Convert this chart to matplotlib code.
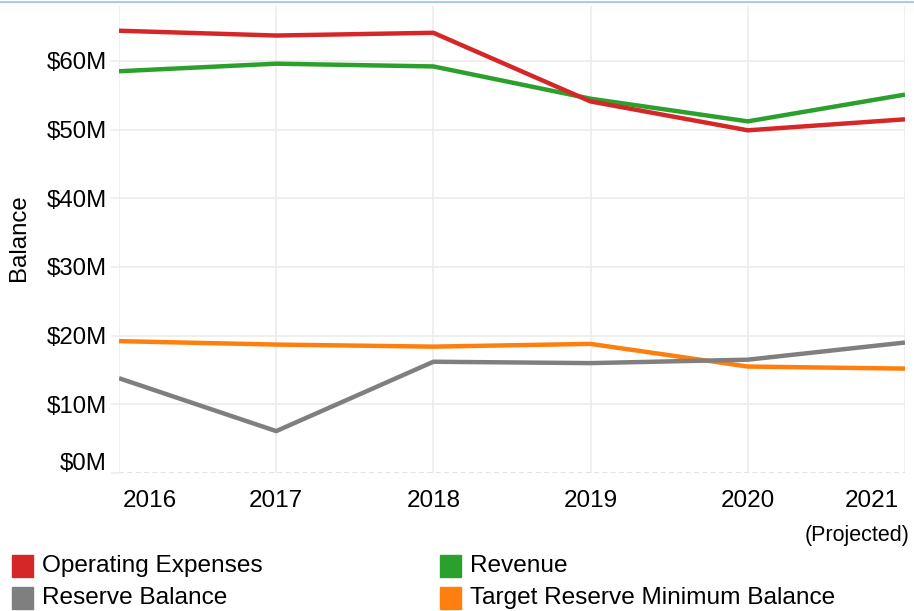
import numpy as np
import matplotlib.pyplot as plt
from matplotlib.patches import Rectangle
from matplotlib.transforms import ScaledTranslation
from matplotlib.lines import Line2D

plt.rcParams['font.family'] = ['Liberation Sans', 'DejaVu Sans']

# data (millions of dollars)
years = [2016, 2017, 2018, 2019, 2020, 2021]
year_labels = ['2016', '2017', '2018', '2019', '2020', '2021']
operating = [64.4, 63.7, 64.1, 54.1, 49.9, 51.5]
revenue = [58.5, 59.6, 59.2, 54.5, 51.2, 55.1]
reserve = [13.8, 6.1, 16.2, 16.0, 16.5, 19.0]
target = [19.2, 18.7, 18.4, 18.8, 15.5, 15.2]

series_names = ['Operating Expenses', 'Revenue', 'Reserve Balance',
                'Target Reserve Minimum Balance']
series_vals = [operating, revenue, reserve, target]
colors = ['#d62728', '#2ca02c', '#7f7f7f', '#ff7f0e']
yticks = [0, 10, 20, 30, 40, 50, 60]

fig = plt.figure(figsize=(9.14, 6.11), dpi=100)
ax = fig.add_axes([119/914, 138/611, 786/914, 467/611])

grid_c = '#ececec'
for v in yticks[1:]:
    ax.axhline(v, color=grid_c, lw=1.2, zorder=0)
for x in years:
    ax.axvline(x, color=grid_c, lw=1.2, zorder=0)
ax.axhline(0, color='#dddddd', lw=1.2, ls=(0, (3, 2)), zorder=0)

# draw order: orange, gray, green, red on top
for i in [3, 2, 1, 0]:
    ax.plot(years, series_vals[i], color=colors[i], lw=3.2,
            solid_capstyle='butt', zorder=3)

ax.set_xlim(2016, 2021)
ax.set_ylim(0, 68)
ax.set_yticks(yticks)
ax.set_yticklabels(['$%dM' % v for v in yticks], fontsize=17.3)
ax.set_xticks(years)
ax.set_xticklabels(year_labels, fontsize=17.5)
ax.tick_params(axis='y', length=5.8, color=grid_c, width=1.2, pad=2.9)
ax.tick_params(axis='x', length=0, pad=12)
for s in ax.spines.values():
    s.set_visible(False)

# nudge edge labels like the original
labs = ax.get_xticklabels()
labs[0].set_transform(labs[0].get_transform() + ScaledTranslation(31/100, 0, fig.dpi_scale_trans))
labs[-1].set_transform(labs[-1].get_transform() + ScaledTranslation(-33/100, 0, fig.dpi_scale_trans))
ylabs = ax.get_yticklabels()
ylabs[0].set_transform(ylabs[0].get_transform() + ScaledTranslation(0, 12/100, fig.dpi_scale_trans))

fig.text(909/914, 1 - 535/611, '(Projected)', ha='right', va='center', fontsize=15.5)
ax.set_ylabel('Balance', fontsize=17.3)
ax.yaxis.set_label_coords(-89/786, (473 - 238)/467)

# top border line
fig.add_artist(Line2D([0, 1], [1 - 1.5/611, 1 - 1.5/611], color='#a9cdf2', lw=1.5))

# legend
col_x = [12, 440]
row_y = [566, 598]
for i, name in enumerate(series_names):
    cx = col_x[i % 2]
    cy = row_y[i // 2]
    fig.add_artist(Rectangle((cx/914, 1 - (cy + 11)/611), 21/914, 22/611,
                             transform=fig.transFigure, color=colors[i]))
    fig.text((cx + 30)/914, 1 - cy/611, name, ha='left', va='center', fontsize=17.6)

fig.savefig('out.png', dpi=100)
